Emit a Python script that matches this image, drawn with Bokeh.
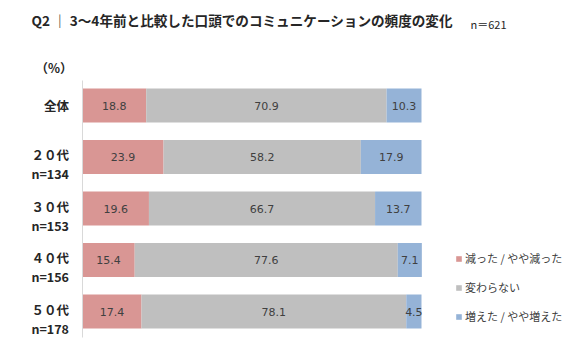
import numpy as np
from bokeh.plotting import figure
from bokeh.models import Range1d, Label, Legend, LegendItem, ColumnDataSource
from bokeh.core.properties import value
from bokeh.embed import file_html
from bokeh.resources import INLINE

# ---- data ----
groups = ["全体", "２０代", "３０代", "４０代", "５０代"]
n_labels = ["", "n=134", "n=153", "n=156", "n=178"]
series_names = ["減った / やや減った", "変わらない", "増えた / やや増えた"]
decreased = [18.8, 23.9, 19.6, 15.4, 17.4]
unchanged = [70.9, 58.2, 66.7, 77.6, 78.1]
increased = [10.3, 17.9, 13.7, 7.1, 4.5]
colors = ["#D99694", "#BFBFBF", "#95B3D7"]

title_text = "Q2 ｜ 3〜4年前と比較した口頭でのコミュニケーションの頻度の変化"
n_total = "n＝621"
unit_text = "（%）"

W, H = 585, 351
px_per_unit = 3.39
x0_px = 82
x_range = Range1d(-x0_px / px_per_unit, (W - x0_px) / px_per_unit)
row_px = 51.5
y_range = Range1d(4 + 40 / row_px, -105 / row_px)

p = figure(width=W, height=H, x_range=x_range, y_range=y_range,
           output_backend="svg", toolbar_location=None,
           min_border=0, min_border_left=0, min_border_right=0,
           min_border_top=0, min_border_bottom=0)
p.axis.visible = False
p.grid.visible = False
p.outline_line_color = None
p.background_fill_color = "white"

idx = np.arange(len(groups))
vals = [np.array(decreased), np.array(unchanged), np.array(increased)]
left = np.zeros(len(groups))
renderers = []
FONT = "Noto Sans CJK JP"
for name, v, c in zip(series_names, vals, colors):
    src = ColumnDataSource(dict(y=idx, left=left, right=left + v,
                                mid=left + v / 2, lab=[f"{x:.1f}" for x in v]))
    r = p.hbar(y="y", left="left", right="right", height=0.66, source=src,
               fill_color=c, line_color=None)
    renderers.append((name, r))
    p.text(x="mid", y="y", text="lab", source=src, text_align="center",
           text_baseline="middle", text_font=value("DejaVu Sans"),
           text_font_size="11px", text_color="#404040")
    left = left + v

# axis line at 0
p.segment(x0=[0], x1=[0], y0=[-25 / row_px], y1=[4 + 26 / row_px],
          line_color="#D9D9D9", line_width=1)

# category labels
name_y = np.where(np.array(n_labels) == "", idx, idx - 0.04)
p.text(x=[-4.0] * len(groups), y=name_y, text=groups, text_align="right",
       text_baseline="middle", text_font=value(FONT), text_font_style="bold",
       text_font_size="12.5px", text_color="#262626")
p.text(x=[-4.0] * len(groups), y=idx + 0.33, text=n_labels, text_align="right",
       text_baseline="middle", text_font=value(FONT), text_font_style="bold",
       text_font_size="12.5px", text_color="#262626")

# title and notes
p.add_layout(Label(x=31, y=H - 19, x_units="screen", y_units="screen",
                   text=title_text, text_font=FONT, text_font_style="bold",
                   text_font_size="13.6px", text_color="#262626",
                   text_baseline="middle"))
p.add_layout(Label(x=470, y=H - 23, x_units="screen", y_units="screen",
                   text=n_total, text_font=FONT, text_font_size="11px",
                   text_color="#262626", text_baseline="middle"))
p.add_layout(Label(x=35, y=H - 67, x_units="screen", y_units="screen",
                   text=unit_text, text_font=FONT, text_font_style="bold",
                   text_font_size="12.5px", text_color="#262626",
                   text_baseline="middle"))

legend = Legend(items=[LegendItem(label=n, renderers=[r]) for n, r in renderers],
                location=(455, 25), padding=0, margin=0, spacing=9,
                glyph_width=7, glyph_height=7, label_height=20,
                label_standoff=3, label_text_font=FONT,
                label_text_font_size="11px", label_text_color="#404040",
                border_line_color=None, background_fill_alpha=0)
p.add_layout(legend)

open("out.html", "w").write(file_html(p, INLINE))
